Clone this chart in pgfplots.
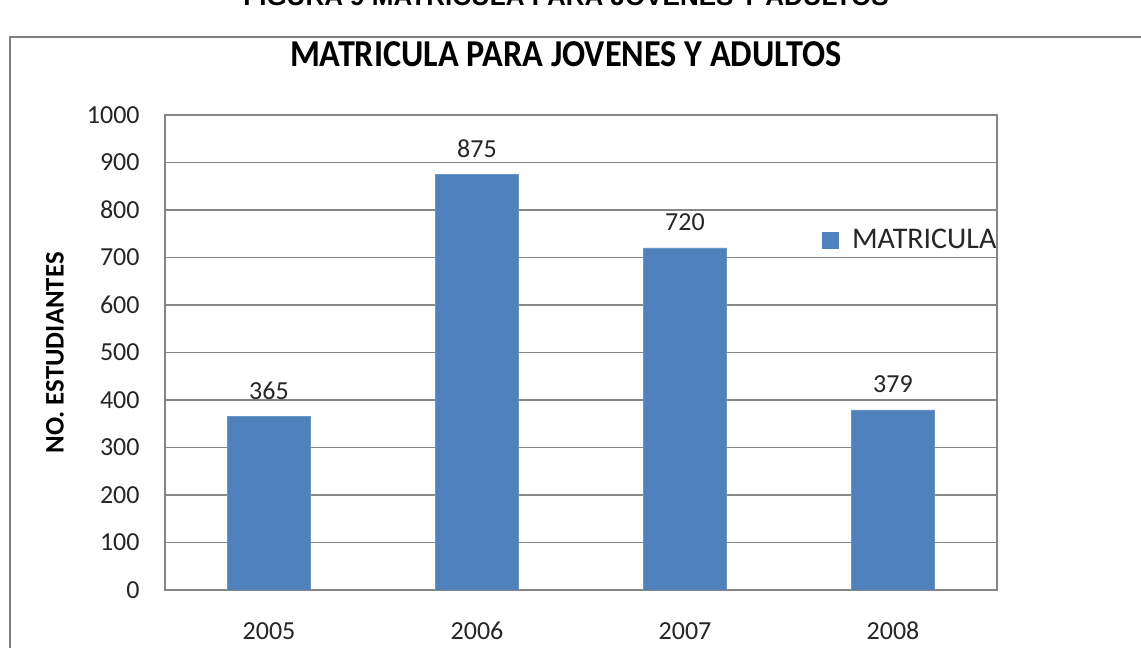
\documentclass[border=0pt]{standalone}
\usepackage{fontspec}
\setmainfont{Carlito}
\newfontfamily\arialfont{Liberation Sans}
\usepackage{pgfplots}
\pgfplotsset{compat=1.18}
\definecolor{barblue}{HTML}{4F81BD}
\definecolor{gridgray}{HTML}{868686}
\definecolor{framegray}{HTML}{808080}
\begin{document}
\begin{tikzpicture}
\path[use as bounding box] (0pt,0pt) rectangle (570.5pt,324pt);
\fill[white] (0pt,0pt) rectangle (570.5pt,324pt);
\draw[framegray, line width=1pt] (5pt,-20pt) -- (5pt,305.5pt) -- (600pt,305.5pt);
\node[anchor=base, inner sep=0pt, font=\arialfont\bfseries\fontsize{13pt}{15pt}\selectfont] at (283pt,321pt) {FIGURA 9 MATRICULA PARA JOVENES Y ADULTOS};
\node[anchor=base, inner sep=0pt, font=\bfseries\fontsize{19pt}{22pt}\selectfont] at (283pt,290.5pt) {\scalebox{0.9}[1]{MATRICULA PARA JOVENES Y ADULTOS}};
\node[rotate=90, inner sep=0pt, font=\bfseries\fontsize{13.4pt}{15pt}\selectfont] at (27.5pt,147.5pt) {NO. ESTUDIANTES};
\begin{axis}[
  at={(82.5pt,29pt)}, anchor=south west,
  scale only axis, width=416pt, height=237.5pt,
  xmin=-0.5, xmax=3.5, ymin=0, ymax=1000,
  xtick=data, xticklabels={2005,2006,2007,2008},
  ytick={0,100,...,1000},
  major tick length=0pt,
  ymajorgrids, grid style={gridgray, line width=0.6pt},
  axis line style={gridgray, line width=0.6pt},
  /pgf/number format/assume math mode=true,
  ticklabel style={font=\fontsize{13pt}{15pt}\selectfont, text=black!85},
  xticklabel style={anchor=base, inner sep=0pt, yshift=-25pt},
  yticklabel style={anchor=east, inner sep=0pt, xshift=-12.5pt},
  /pgf/number format/.cd, 1000 sep={}, /pgfplots/.cd,
  ybar, bar width=0.4,
  nodes near coords,
  every node near coord/.append style={anchor=base, inner sep=0pt, yshift=8.5pt, font=\fontsize{13pt}{15pt}\selectfont, text=black!85},
  legend style={at={(0.79,0.737)}, anchor=west, draw=none, fill=none, inner sep=0pt, outer sep=0pt,
    font=\fontsize{15pt}{17pt}\selectfont, text=black!85,
    /tikz/every odd column/.append style={column sep=4.5pt}},
  legend image code/.code={\fill[barblue] (0pt,-4pt) rectangle (8pt,4pt);},
]
\addplot[fill=barblue, draw=barblue!85!white] coordinates {(0,365) (1,875) (2,720) (3,379)};
\addlegendentry{MATRICULA}
\end{axis}
\end{tikzpicture}
\end{document}
